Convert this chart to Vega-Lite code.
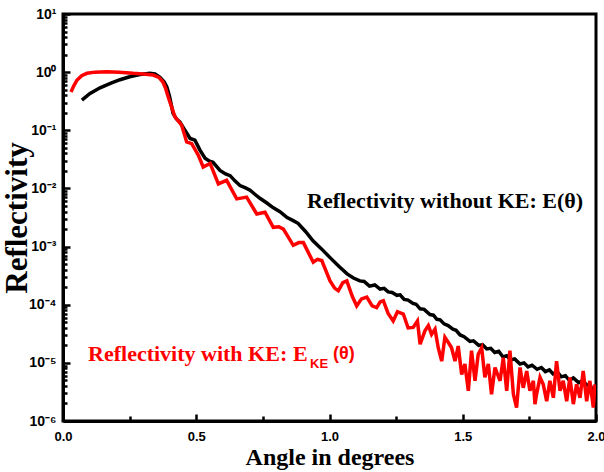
{
  "$schema": "https://vega.github.io/schema/vega-lite/v6.json",
  "autosize": "none",
  "width": 533,
  "height": 407,
  "padding": {"left": 63, "top": 14, "right": 8, "bottom": 51},
  "background": "white",
  "config": {
    "view": {"stroke": "black", "strokeWidth": 3},
    "axis": {"domainColor": "black", "domainWidth": 3, "tickColor": "black", "tickWidth": 2.5, "grid": false, "labelColor": "black", "titleColor": "black"}
  },
  "datasets": {
    "black": [
      {"a": 0.071, "r": 0.331}, {"a": 0.10, "r": 0.427}, {"a": 0.139, "r": 0.537}, {"a": 0.18, "r": 0.646},
      {"a": 0.214, "r": 0.741}, {"a": 0.25, "r": 0.832}, {"a": 0.289, "r": 0.912}, {"a": 0.326, "r": 0.955},
      {"a": 0.345, "r": 0.933}, {"a": 0.364, "r": 0.813}, {"a": 0.38, "r": 0.676}, {"a": 0.39, "r": 0.55},
      {"a": 0.40, "r": 0.38}, {"a": 0.413, "r": 0.195}, {"a": 0.425, "r": 0.158}, {"a": 0.439, "r": 0.138},
      {"a": 0.455, "r": 0.105}, {"a": 0.477, "r": 0.0724}, {"a": 0.495, "r": 0.0676}, {"a": 0.514, "r": 0.0457},
      {"a": 0.533, "r": 0.0331}, {"a": 0.55, "r": 0.0295}, {"a": 0.563, "r": 0.0282}, {"a": 0.589, "r": 0.0204},
      {"a": 0.61, "r": 0.0178}, {"a": 0.627, "r": 0.0166}, {"a": 0.645, "r": 0.0135}, {"a": 0.664, "r": 0.0112},
      {"a": 0.685, "r": 0.0102}, {"a": 0.702, "r": 0.00933}, {"a": 0.72, "r": 0.00794}, {"a": 0.739, "r": 0.00676},
      {"a": 0.765, "r": 0.00562}, {"a": 0.788, "r": 0.00468}, {"a": 0.814, "r": 0.00398}, {"a": 0.841, "r": 0.00316},
      {"a": 0.862, "r": 0.00282}, {"a": 0.882, "r": 0.00251}, {"a": 0.91, "r": 0.00182}, {"a": 0.938, "r": 0.00126},
      {"a": 0.97, "r": 0.000912}, {"a": 1.002, "r": 0.000646}, {"a": 1.035, "r": 0.000457}, {"a": 1.066, "r": 0.000339},
      {"a": 1.09, "r": 0.000288}, {"a": 1.114, "r": 0.000257}, {"a": 1.13, "r": 0.000251}, {"a": 1.15, "r": 0.000209},
      {"a": 1.17, "r": 0.000219}, {"a": 1.19, "r": 0.000186}, {"a": 1.205, "r": 0.000191}, {"a": 1.22, "r": 0.000166},
      {"a": 1.235, "r": 0.000162}, {"a": 1.253, "r": 0.000145}, {"a": 1.265, "r": 0.000148}, {"a": 1.28, "r": 0.000123},
      {"a": 1.295, "r": 0.00012}, {"a": 1.313, "r": 0.000105}, {"a": 1.325, "r": 0.000102}, {"a": 1.34, "r": 8.51e-5},
      {"a": 1.355, "r": 8.32e-5}, {"a": 1.377, "r": 6.76e-5}, {"a": 1.39, "r": 6.61e-5}, {"a": 1.403, "r": 5.62e-5},
      {"a": 1.415, "r": 5.5e-5}, {"a": 1.43, "r": 4.68e-5}, {"a": 1.445, "r": 4.37e-5}, {"a": 1.463, "r": 3.8e-5},
      {"a": 1.475, "r": 3.63e-5}, {"a": 1.49, "r": 3.02e-5}, {"a": 1.505, "r": 2.82e-5}, {"a": 1.527, "r": 2.34e-5},
      {"a": 1.54, "r": 2.4e-5}, {"a": 1.56, "r": 2.0e-5}, {"a": 1.575, "r": 2.04e-5}, {"a": 1.59, "r": 1.74e-5},
      {"a": 1.605, "r": 1.78e-5}, {"a": 1.62, "r": 1.51e-5}, {"a": 1.635, "r": 1.58e-5}, {"a": 1.651, "r": 1.26e-5},
      {"a": 1.665, "r": 1.32e-5}, {"a": 1.68, "r": 1.12e-5}, {"a": 1.695, "r": 1.17e-5}, {"a": 1.715, "r": 9.55e-6},
      {"a": 1.73, "r": 1.0e-5}, {"a": 1.745, "r": 8.51e-6}, {"a": 1.76, "r": 9.12e-6}, {"a": 1.779, "r": 7.76e-6},
      {"a": 1.795, "r": 8.32e-6}, {"a": 1.81, "r": 7.08e-6}, {"a": 1.825, "r": 7.59e-6}, {"a": 1.839, "r": 6.46e-6},
      {"a": 1.855, "r": 6.92e-6}, {"a": 1.87, "r": 5.75e-6}, {"a": 1.885, "r": 6.03e-6}, {"a": 1.9, "r": 5.01e-6},
      {"a": 1.915, "r": 5.5e-6}, {"a": 1.935, "r": 4.57e-6}, {"a": 1.95, "r": 4.9e-6}, {"a": 1.966, "r": 4.17e-6},
      {"a": 1.98, "r": 3.98e-6}, {"a": 1.99, "r": 2.82e-6}
    ],
    "red": [
      {"a": 0.03, "r": 0.457}, {"a": 0.04, "r": 0.575}, {"a": 0.052, "r": 0.724}, {"a": 0.07, "r": 0.871},
      {"a": 0.09, "r": 0.955}, {"a": 0.12, "r": 1.0}, {"a": 0.165, "r": 1.02}, {"a": 0.21, "r": 1.0},
      {"a": 0.263, "r": 0.955}, {"a": 0.30, "r": 0.933}, {"a": 0.338, "r": 0.891}, {"a": 0.36, "r": 0.813},
      {"a": 0.375, "r": 0.676}, {"a": 0.385, "r": 0.525}, {"a": 0.395, "r": 0.372}, {"a": 0.42, "r": 0.17},
      {"a": 0.445, "r": 0.123}, {"a": 0.464, "r": 0.0631}, {"a": 0.483, "r": 0.0589}, {"a": 0.508, "r": 0.0372},
      {"a": 0.526, "r": 0.0234}, {"a": 0.552, "r": 0.0269}, {"a": 0.583, "r": 0.012}, {"a": 0.614, "r": 0.0138},
      {"a": 0.652, "r": 0.00661}, {"a": 0.689, "r": 0.00708}, {"a": 0.727, "r": 0.00363}, {"a": 0.758, "r": 0.00389},
      {"a": 0.789, "r": 0.00214}, {"a": 0.81, "r": 0.00219}, {"a": 0.827, "r": 0.002}, {"a": 0.864, "r": 0.00105},
      {"a": 0.885, "r": 0.00117}, {"a": 0.902, "r": 0.00117}, {"a": 0.939, "r": 0.000537}, {"a": 0.955, "r": 0.000603},
      {"a": 0.971, "r": 0.000575}, {"a": 1.002, "r": 0.000257}, {"a": 1.02, "r": 0.000191}, {"a": 1.033, "r": 0.000174},
      {"a": 1.05, "r": 0.00024}, {"a": 1.065, "r": 0.000257}, {"a": 1.085, "r": 0.000141}, {"a": 1.102, "r": 9.55e-5},
      {"a": 1.12, "r": 0.000126}, {"a": 1.14, "r": 0.000135}, {"a": 1.16, "r": 9.55e-5}, {"a": 1.177, "r": 8.91e-5},
      {"a": 1.19, "r": 0.000112}, {"a": 1.202, "r": 0.000117}, {"a": 1.22, "r": 7.08e-5}, {"a": 1.239, "r": 5.25e-5},
      {"a": 1.255, "r": 7.59e-5}, {"a": 1.277, "r": 6.92e-5}, {"a": 1.295, "r": 3.98e-5}, {"a": 1.314, "r": 4.07e-5},
      {"a": 1.33, "r": 5.25e-5}, {"a": 1.34, "r": 2.09e-5}, {"a": 1.358, "r": 3.55e-5}, {"a": 1.371, "r": 4.37e-5},
      {"a": 1.383, "r": 3.09e-5}, {"a": 1.396, "r": 3.8e-5}, {"a": 1.408, "r": 1.82e-5}, {"a": 1.421, "r": 1.07e-5},
      {"a": 1.433, "r": 2.75e-5}, {"a": 1.446, "r": 2.24e-5}, {"a": 1.458, "r": 1.82e-5}, {"a": 1.471, "r": 1.07e-5},
      {"a": 1.483, "r": 1.95e-5}, {"a": 1.496, "r": 6.31e-6}, {"a": 1.508, "r": 9.55e-6}, {"a": 1.521, "r": 3.31e-6},
      {"a": 1.533, "r": 1.62e-5}, {"a": 1.546, "r": 4.9e-6}, {"a": 1.558, "r": 1.41e-5}, {"a": 1.571, "r": 1.82e-5},
      {"a": 1.583, "r": 5.62e-6}, {"a": 1.596, "r": 9.55e-6}, {"a": 1.608, "r": 2.88e-6}, {"a": 1.621, "r": 8.32e-6},
      {"a": 1.64, "r": 4.9e-6}, {"a": 1.652, "r": 1.23e-5}, {"a": 1.665, "r": 3.31e-6}, {"a": 1.677, "r": 1.62e-5},
      {"a": 1.69, "r": 2.88e-6}, {"a": 1.702, "r": 1.7e-6}, {"a": 1.715, "r": 8.32e-6}, {"a": 1.727, "r": 3.72e-6},
      {"a": 1.74, "r": 7.24e-6}, {"a": 1.752, "r": 3.31e-6}, {"a": 1.765, "r": 4.9e-6}, {"a": 1.771, "r": 1.95e-6},
      {"a": 1.777, "r": 2.88e-6}, {"a": 1.79, "r": 5.62e-6}, {"a": 1.802, "r": 4.27e-6}, {"a": 1.815, "r": 2.19e-6},
      {"a": 1.827, "r": 4.9e-6}, {"a": 1.84, "r": 2.51e-6}, {"a": 1.852, "r": 1.07e-5}, {"a": 1.865, "r": 3.31e-6},
      {"a": 1.877, "r": 4.9e-6}, {"a": 1.89, "r": 2.19e-6}, {"a": 1.902, "r": 5.62e-6}, {"a": 1.915, "r": 1.95e-6},
      {"a": 1.927, "r": 4.27e-6}, {"a": 1.94, "r": 2.51e-6}, {"a": 1.952, "r": 7.24e-6}, {"a": 1.965, "r": 2.19e-6},
      {"a": 1.977, "r": 4.9e-6}, {"a": 1.99, "r": 1.7e-6}, {"a": 1.996, "r": 4.27e-6}
    ]
  },
  "encoding": {
    "x": {
      "field": "a", "type": "quantitative",
      "scale": {"domain": [0, 2], "nice": false, "zero": false},
      "axis": {
        "title": "Angle in degrees",
        "titleFont": "Liberation Serif", "titleFontSize": 24, "titleFontWeight": "bold", "titlePadding": 0,
        "values": [0, 0.25, 0.5, 0.75, 1, 1.25, 1.5, 1.75, 2],
        "labelExpr": "datum.value % 0.5 == 0 ? format(datum.value, '.1f') : ''",
        "labelFont": "Liberation Sans", "labelFontSize": 13, "labelFontWeight": "bold",
        "labelPadding": 16, "labelOverlap": false, "labelFlush": false,
        "tickSize": {"condition": {"test": "datum.value % 0.5 == 0", "value": -7}, "value": -5}
      }
    },
    "y": {
      "field": "r", "type": "quantitative",
      "scale": {"type": "log", "domain": [0.000001, 10], "nice": false},
      "axis": {
        "title": "Reflectivity",
        "titleFont": "Liberation Serif", "titleFontSize": 31, "titleFontWeight": "bold", "titlePadding": -5,
        "values": [0.000001, 0.000002, 0.000003, 0.000004, 0.000005, 0.000006, 0.000007, 0.000008, 0.000009,
                   0.00001, 0.00002, 0.00003, 0.00004, 0.00005, 0.00006, 0.00007, 0.00008, 0.00009,
                   0.0001, 0.0002, 0.0003, 0.0004, 0.0005, 0.0006, 0.0007, 0.0008, 0.0009,
                   0.001, 0.002, 0.003, 0.004, 0.005, 0.006, 0.007, 0.008, 0.009,
                   0.01, 0.02, 0.03, 0.04, 0.05, 0.06, 0.07, 0.08, 0.09,
                   0.1, 0.2, 0.3, 0.4, 0.5, 0.6, 0.7, 0.8, 0.9,
                   1, 2, 3, 4, 5, 6, 7, 8, 9, 10],
        "labelExpr": "abs(log(datum.value)/LN10 - round(log(datum.value)/LN10)) < 0.01 ? '10' + ['⁻⁶','⁻⁵','⁻⁴','⁻³','⁻²','⁻¹','⁰','¹'][round(log(datum.value)/LN10) + 6] : ''",
        "labelFont": "Liberation Sans", "labelFontSize": 14, "labelFontWeight": "bold",
        "labelPadding": 14, "labelOverlap": false, "labelFlush": false,
        "tickSize": {"condition": {"test": "abs(log(datum.value)/LN10 - round(log(datum.value)/LN10)) < 0.01", "value": -7}, "value": -4}
      }
    }
  },
  "layer": [
    {"data": {"name": "black"}, "mark": {"type": "line", "color": "black", "strokeWidth": 3.5, "clip": true}},
    {"data": {"name": "red"}, "mark": {"type": "line", "color": "#ff0000", "strokeWidth": 3.5, "clip": true}},
    {
      "data": {"values": [{"a": 0.916, "r": 0.00617, "t": "Reflectivity without KE: E(θ)"}]},
      "mark": {"type": "text", "align": "left", "baseline": "middle", "font": "Liberation Serif", "fontSize": 22, "fontWeight": "bold", "color": "black"},
      "encoding": {"text": {"field": "t"}}
    },
    {
      "data": {"values": [{"a": 0.094, "r": 1.44e-5, "t": "Reflectivity with KE:"}]},
      "mark": {"type": "text", "align": "left", "baseline": "middle", "font": "Liberation Serif", "fontSize": 22, "fontWeight": "bold", "color": "#ff0000"},
      "encoding": {"text": {"field": "t"}}
    },
    {
      "data": {"values": [{"a": 0.863, "r": 1.44e-5, "t": "E"}]},
      "mark": {"type": "text", "align": "left", "baseline": "middle", "font": "Liberation Serif", "fontSize": 22, "fontWeight": "bold", "color": "#ff0000"},
      "encoding": {"text": {"field": "t"}}
    },
    {
      "data": {"values": [{"a": 0.927, "r": 9.55e-6, "t": "KE"}]},
      "mark": {"type": "text", "align": "left", "baseline": "middle", "font": "Liberation Sans", "fontSize": 13, "fontWeight": "bold", "color": "#ff0000"},
      "encoding": {"text": {"field": "t"}}
    },
    {
      "data": {"values": [{"a": 1.013, "r": 1.44e-5, "t": "(θ)"}]},
      "mark": {"type": "text", "align": "left", "baseline": "middle", "font": "Liberation Sans", "fontSize": 18, "fontWeight": "bold", "color": "#ff0000"},
      "encoding": {"text": {"field": "t"}}
    }
  ]
}
